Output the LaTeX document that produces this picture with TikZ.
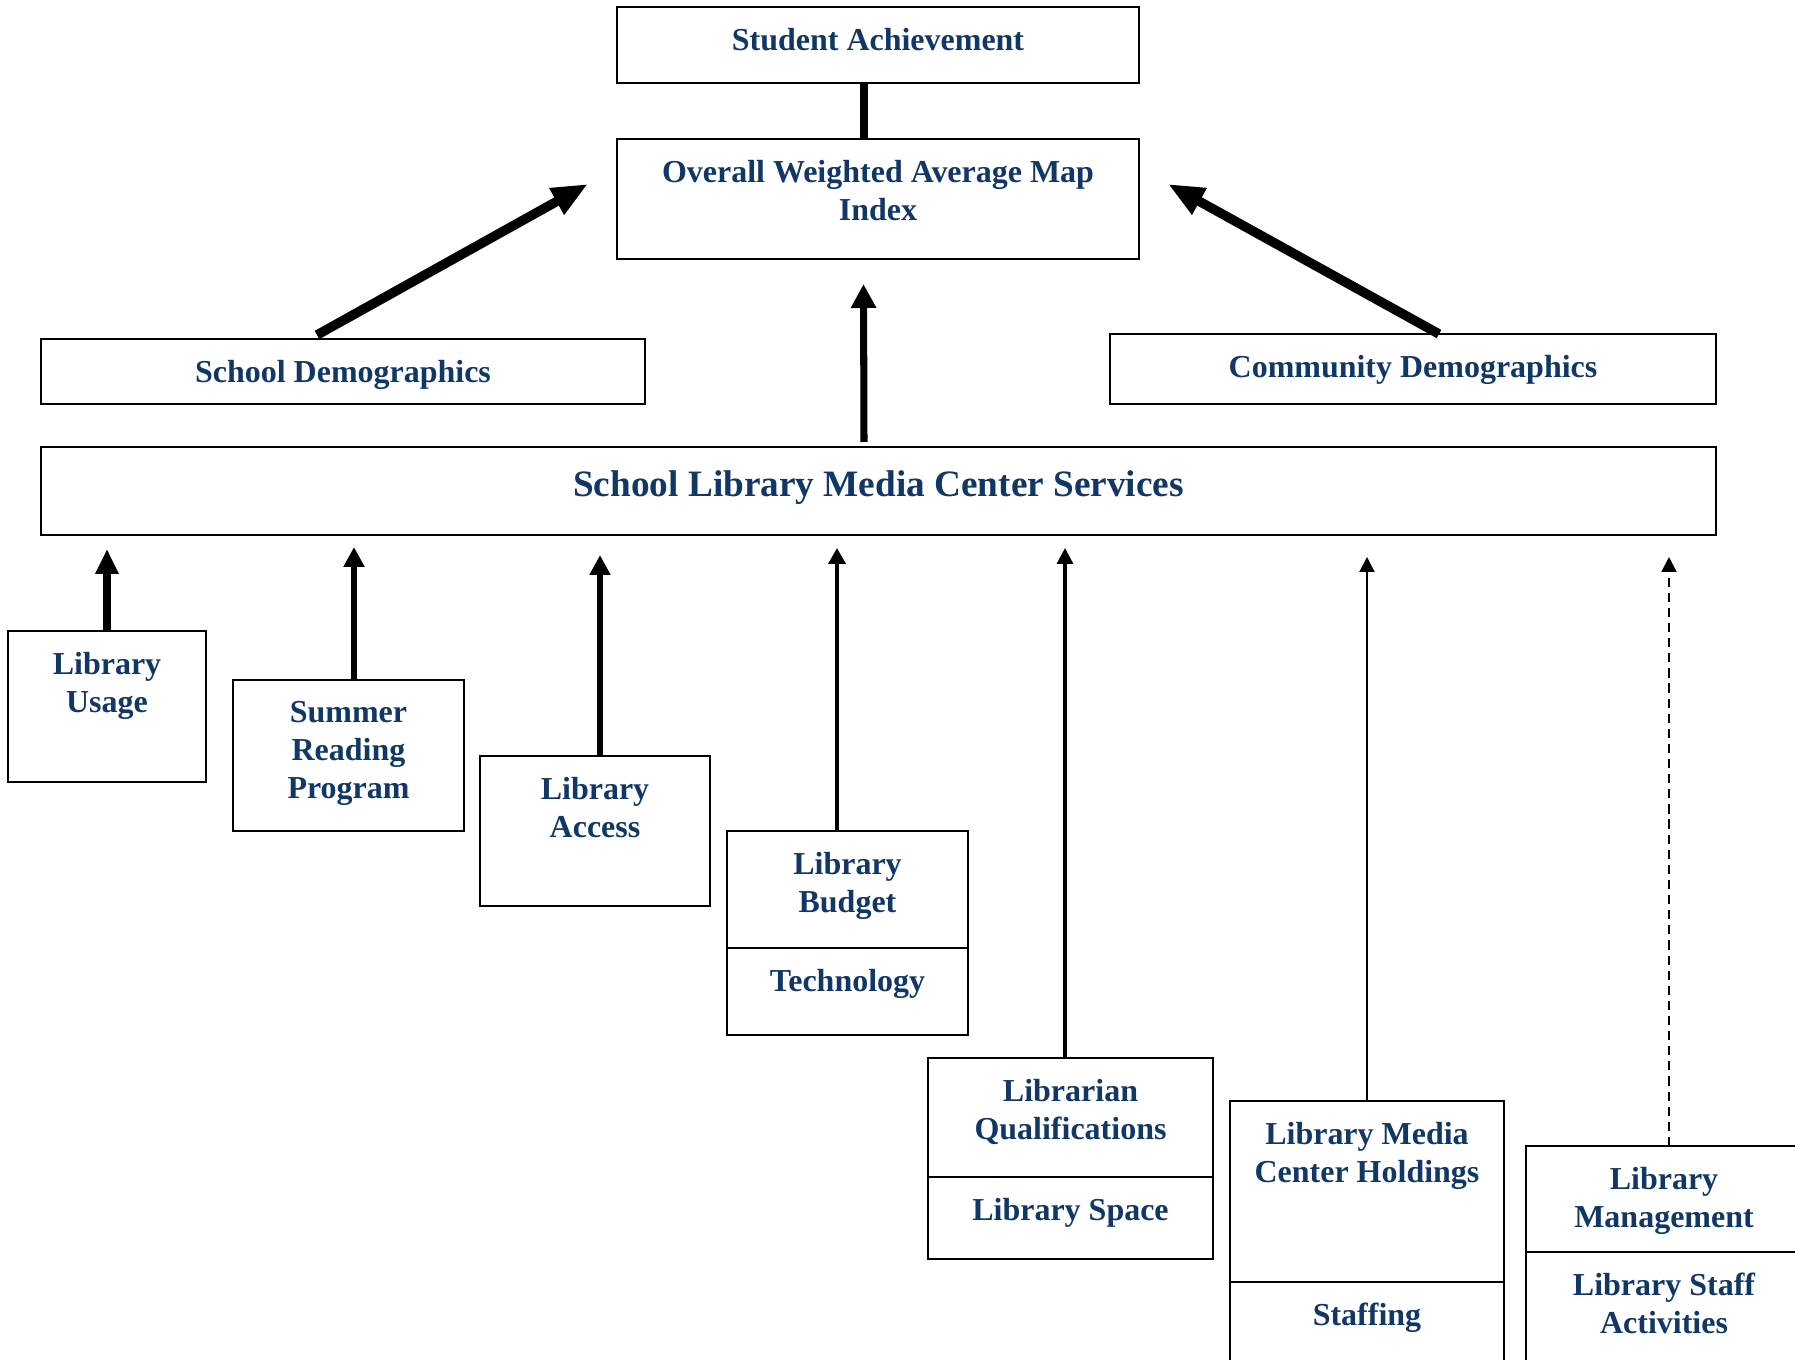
\documentclass[tikz,border=0pt]{standalone}
\usepackage{fontspec}
\setmainfont{Liberation Serif}
\usetikzlibrary{arrows.meta, positioning}
\definecolor{labelblue}{RGB}{17,55,102}

\tikzset{
  box/.style={draw, line width=0.7pt, rectangle, inner sep=0pt, outer sep=0pt, anchor=north west},
  boxtxt/.style={font=\fontsize{9.1pt}{10.8pt}\selectfont\bfseries, text=labelblue, align=center, inner sep=0pt},
  bigtxt/.style={font=\fontsize{10.6pt}{12.5pt}\selectfont\bfseries, text=labelblue, align=center, inner sep=0pt},
  link/.style={line width=2.2pt},
  fatarrow/.style={line width=2.7pt, -{Triangle[length=3.6mm,width=2.8mm]}},
  midarrow/.style={line width=2pt, -{Triangle[length=2.4mm,width=2.4mm]}},
  uparrow/.style={-{Triangle[length=#1]}},
}

\begin{document}
\begin{tikzpicture}
    \useasboundingbox (0,0) rectangle (17.95,-13.60);
    \clip (0,0) rectangle (17.95,-13.60);

    % top row
    \node[box, minimum width=5.22cm, minimum height=0.76cm] (sa) at (6.17,-0.07) {};
    \node[boxtxt, below=2.05mm of sa.north] (satxt) {Student Achievement};
    \node[box, minimum width=5.22cm, minimum height=1.20cm] (owa) at (6.17,-1.39) {};
    \node[boxtxt, below=2.05mm of owa.north] (owatxt) {Overall Weighted Average Map\\Index};

    % demographics
    \node[box, minimum width=6.04cm, minimum height=0.65cm] (sd) at (0.41,-3.39) {};
    \node[boxtxt, below=2.05mm of sd.north] (sdtxt) {School Demographics};
    \node[box, minimum width=6.06cm, minimum height=0.70cm] (cd) at (11.10,-3.34) {};
    \node[boxtxt, below=2.05mm of cd.north] (cdtxt) {Community Demographics};

    % services
    \node[box, minimum width=16.75cm, minimum height=0.88cm] (slmcs) at (0.41,-4.47) {};
    \node[bigtxt, below=2.25mm of slmcs.north] (slmcstxt) {School Library Media Center Services};

    % service boxes
    \node[box, minimum width=1.98cm, minimum height=1.51cm] (usage) at (0.08,-6.31) {};
    \node[boxtxt, below=2.05mm of usage.north] (usagetxt) {Library\\Usage};

    \node[box, minimum width=2.31cm, minimum height=1.51cm] (summer) at (2.33,-6.80) {};
    \node[boxtxt, below=2.05mm of summer.north] (summertxt) {Summer\\Reading\\Program};

    \node[box, minimum width=2.30cm, minimum height=1.50cm] (access) at (4.80,-7.56) {};
    \node[boxtxt, below=2.05mm of access.north] (accesstxt) {Library\\Access};

    \node[box, minimum width=2.41cm, minimum height=1.17cm] (budget) at (7.27,-8.31) {};
    \node[box, minimum width=2.41cm, minimum height=0.87cm] (tech) at (budget.south west) {};
    \node[boxtxt, below=2.05mm of budget.north] (budgettxt) {Library\\Budget};
    \node[boxtxt, below=2.05mm of tech.north] (techtxt) {Technology};

    \node[box, minimum width=2.85cm, minimum height=1.19cm] (librarian) at (9.28,-10.58) {};
    \node[box, minimum width=2.85cm, minimum height=0.82cm] (space) at (librarian.south west) {};
    \node[boxtxt, below=2.05mm of librarian.north] (librariantxt) {Librarian\\Qualifications};
    \node[boxtxt, below=2.05mm of space.north] (spacetxt) {Library Space};

    \node[box, minimum width=2.74cm, minimum height=1.81cm] (holdings) at (12.30,-11.01) {};
    \node[box, minimum width=2.74cm, minimum height=1.30cm] (staffing) at (holdings.south west) {};
    \node[boxtxt, below=2.05mm of holdings.north] (holdingstxt) {Library Media\\Center Holdings};
    \node[boxtxt, below=2.05mm of staffing.north] (staffingtxt) {Staffing};

    \node[box, minimum width=2.76cm, minimum height=1.06cm] (mgmt) at (15.26,-11.46) {};
    \node[box, minimum width=2.76cm, minimum height=1.30cm] (staffact) at (mgmt.south west) {};
    \node[boxtxt, below=2.05mm of mgmt.north] (mgmttxt) {Library\\Management};
    \node[boxtxt, below=2.05mm of staffact.north] (staffacttxt) {Library Staff\\Activities};

    % arrow tips under the services box
    \coordinate (t1) at (1.07,-5.49);
    \coordinate (t2) at (3.54,-5.47);
    \coordinate (t3) at (6.00,-5.55);
    \coordinate (t4) at (8.37,-5.48);
    \coordinate (t5) at (10.65,-5.48);
    \coordinate (t6) at (13.67,-5.57);
    \coordinate (t7) at (16.69,-5.57);

    % connectors
    \draw[link] ([xshift=-0.14cm]sa.south) -- ([xshift=-0.14cm]owa.north);
    \draw[fatarrow] ([xshift=-0.26cm,yshift=0.04cm]sd.north) -- ([xshift=-0.29cm,yshift=0.15cm]owa.west);
    \draw[fatarrow] ([xshift=0.26cm,yshift=0.0cm]cd.north) -- ([xshift=0.29cm,yshift=0.15cm]owa.east);
    \draw[midarrow] ([xshift=-0.145cm,yshift=0.05cm]slmcs.north) -- ([xshift=-0.145cm,yshift=-0.25cm]owa.south);

    \draw[uparrow={2.5mm 0 0,width=2.2mm}, line width=2.3pt] (usage.north -| t1) -- (t1);
    \draw[uparrow={2.0mm 0 0,width=2.0mm}, line width=1.6pt] (summer.north -| t2) -- (t2);
    \draw[uparrow={2.0mm 0 0,width=2.0mm}, line width=1.7pt] (access.north -| t3) -- (t3);
    \draw[uparrow={1.6mm 0 0,width=1.7mm}, line width=1.05pt] (budget.north -| t4) -- (t4);
    \draw[uparrow={1.6mm 0 0,width=1.6mm}, line width=0.9pt] (librarian.north -| t5) -- (t5);
    \draw[uparrow={1.5mm 0 0,width=1.5mm}, line width=0.6pt] (holdings.north -| t6) -- (t6);
    \draw[uparrow={1.5mm 0 0,width=1.5mm}, line width=0.6pt, dash pattern=on 2.6pt off 1.7pt] (mgmt.north -| t7) -- (t7);
\end{tikzpicture}
\end{document}
